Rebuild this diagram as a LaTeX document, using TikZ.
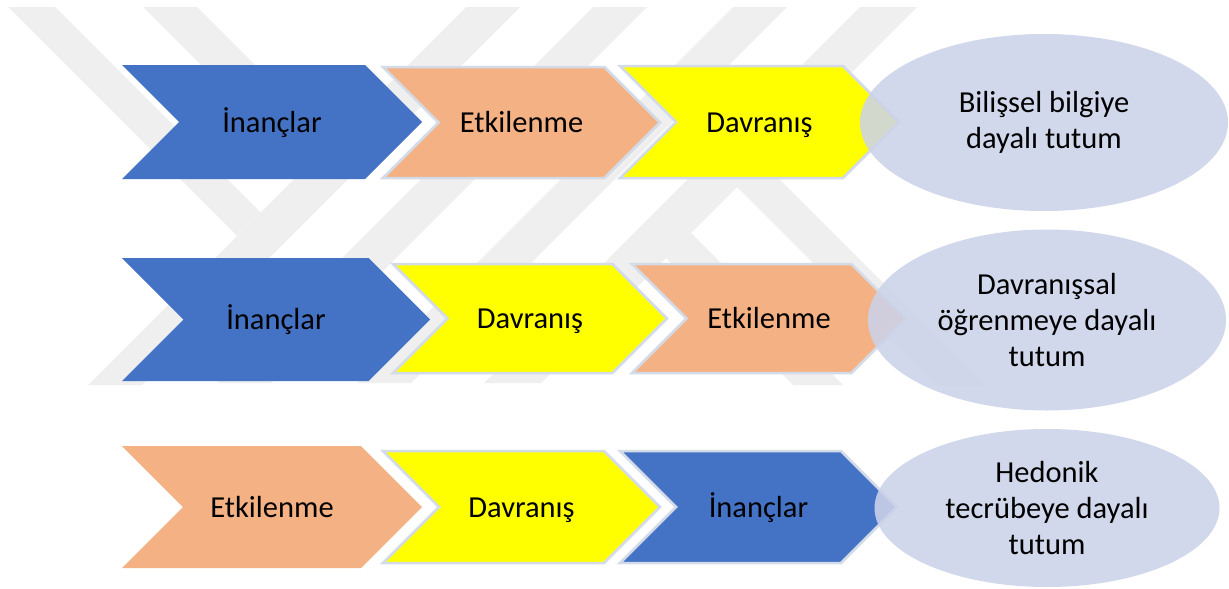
\documentclass[tikz,border=0pt]{standalone}
\usepackage{fontspec}
\setmainfont{Carlito}
\usetikzlibrary{shapes.geometric}

\definecolor{cblue}{RGB}{68,114,196}
\definecolor{corange}{RGB}{244,177,131}
\definecolor{cyellow}{RGB}{255,255,0}
\definecolor{cell}{RGB}{204,211,233}
\definecolor{cedge}{RGB}{212,219,232}
\definecolor{wmgray}{RGB}{239,239,239}

\tikzset{
  wmark/.style={fill=wmgray, draw=none},
  lbl/.style={inner sep=0pt, anchor=base, text=black, font=\fontsize{30.5}{36}\selectfont},
  plainchev/.style={draw=none},
  edgechev/.style={draw=cedge, line width=2.5pt, line join=miter},
  ellbox/.style={ellipse, fill=cell, fill opacity=0.88, text opacity=1, draw=none,
    inner sep=0pt, align=center, text=black, font=\fontsize{30.5}{36}\selectfont},
}

% chevron: name, left x, top y, tip x, bottom y, style, label
\newcommand{\chevshape}[7]{%
  \pgfmathsetmacro{\cmid}{(#3+#5)/2}%
  \pgfmathsetmacro{\cdep}{(#5-#3)/2}%
  \path[#6] (#2,#3) -- ({#4-\cdep},#3) -- (#4,\cmid) -- ({#4-\cdep},#5)
    -- (#2,#5) -- ({#2+\cdep},\cmid) -- cycle;
  \node[lbl] (#1) at ({(#2+#4)/2},{\cmid+10}) {#7};
}

\begin{document}
\begin{tikzpicture}[x=1pt, y=-1pt]
\useasboundingbox (0,0) rectangle (1229,589);
\fill[white] (0,0) rectangle (1229,589);

% light background emblem made of slanted bars
\fill[wmark] (8,7) -- (55,7) -- (260.5,212.5) -- (237,236) -- cycle;
\fill[wmark] (466,7) -- (520,7) -- (142,385) -- (88,385) -- cycle;
\fill[wmark] (143,7) -- (197,7) -- (331.5,141.5) -- (304.5,168.5) -- cycle;
\fill[wmark] (593,7) -- (647,7) -- (271,383) -- (217,383) -- cycle;
\fill[wmark] (733,7) -- (787,7) -- (411,383) -- (357,383) -- cycle;
\fill[wmark] (860,7) -- (917,7) -- (541,383) -- (484,383) -- cycle;
\fill[wmark] (762,162) -- (985,385) -- (935,385) -- (737,187) -- cycle;
\fill[wmark] (691,233) -- (843,385) -- (793,385) -- (666,258) -- cycle;

% row 1
\chevshape{a1}{122}{65}{422}{179}{plainchev, fill=cblue}{İnançlar}
\chevshape{a2}{383}{67}{660}{178}{edgechev, fill=corange}{Etkilenme}
\chevshape{a3}{620}{66}{899}{178}{edgechev, fill=cyellow}{Davranış}
\node[ellbox, minimum width=368pt, minimum height=177pt] (e1) at (1044,122.5)
  {Bilişsel bilgiye\\dayalı tutum};

% row 2
\chevshape{b1}{122}{258}{430}{381}{plainchev, fill=cblue}{İnançlar}
\chevshape{b2}{393}{264}{667}{373}{edgechev, fill=cyellow}{Davranış}
\chevshape{b3}{632}{264}{906}{373}{edgechev, fill=corange}{Etkilenme}
\node[ellbox, minimum width=358pt, minimum height=181pt] (e2) at (1047,320)
  {Davranışsal\\öğrenmeye dayalı\\tutum};

% row 3
\chevshape{c1}{122}{446}{422}{568}{plainchev, fill=corange}{Etkilenme}
\chevshape{c2}{383}{451}{660}{563}{edgechev, fill=cyellow}{Davranış}
\chevshape{c3}{620}{451}{897}{563}{edgechev, fill=cblue}{İnançlar}
\node[ellbox, minimum width=345pt, minimum height=158pt] (e3) at (1047,508)
  {Hedonik\\tecrübeye dayalı\\tutum};
\end{tikzpicture}
\end{document}
